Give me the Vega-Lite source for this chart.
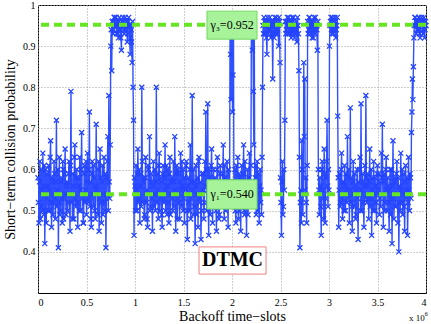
{
"$schema": "https://vega.github.io/schema/vega-lite/v6.json",
"width": 388, "height": 288,
"autosize": {"type": "none"},
"padding": {"left": 38, "top": 5, "right": 5, "bottom": 31},
"background": "white",
"config": {"view": {"stroke": "#000", "strokeWidth": 1}, "font": "Liberation Serif"},
"data": {"values": [
{"x":0,"y":0.58},{"x":5,"y":0.52},{"x":10,"y":0.47},{"x":15,"y":0.57},{"x":20,"y":0.62},{"x":25,"y":0.48},{"x":30,"y":0.51},{"x":35,"y":0.60},{"x":40,"y":0.55},{"x":45,"y":0.50},{"x":50,"y":0.64},{"x":55,"y":0.56},{"x":60,"y":0.49},{"x":65,"y":0.61},{"x":70,"y":0.42},{"x":75,"y":0.54},{"x":80,"y":0.60},{"x":85,"y":0.47},{"x":90,"y":0.53},{"x":95,"y":0.59},
{"x":100,"y":0.56},{"x":105,"y":0.50},{"x":110,"y":0.61},{"x":115,"y":0.55},{"x":120,"y":0.50},{"x":125,"y":0.63},{"x":130,"y":0.67},{"x":135,"y":0.52},{"x":140,"y":0.46},{"x":145,"y":0.58},{"x":150,"y":0.57},{"x":155,"y":0.49},{"x":160,"y":0.52},{"x":165,"y":0.62},{"x":170,"y":0.59},{"x":175,"y":0.53},{"x":180,"y":0.48},{"x":185,"y":0.57},{"x":190,"y":0.72},{"x":195,"y":0.51},
{"x":200,"y":0.55},{"x":205,"y":0.60},{"x":210,"y":0.41},{"x":215,"y":0.52},{"x":220,"y":0.63},{"x":225,"y":0.49},{"x":230,"y":0.50},{"x":235,"y":0.57},{"x":240,"y":0.58},{"x":245,"y":0.53},{"x":250,"y":0.47},{"x":255,"y":0.62},{"x":260,"y":0.60},{"x":265,"y":0.48},{"x":270,"y":0.53},{"x":275,"y":0.59},{"x":280,"y":0.65},{"x":285,"y":0.54},{"x":290,"y":0.49},{"x":295,"y":0.56},
{"x":300,"y":0.57},{"x":305,"y":0.50},{"x":310,"y":0.52},{"x":315,"y":0.59},{"x":320,"y":0.62},{"x":325,"y":0.54},{"x":330,"y":0.45},{"x":335,"y":0.61},{"x":340,"y":0.79},{"x":345,"y":0.52},{"x":350,"y":0.54},{"x":355,"y":0.48},{"x":360,"y":0.59},{"x":365,"y":0.56},{"x":370,"y":0.48},{"x":375,"y":0.63},{"x":380,"y":0.66},{"x":385,"y":0.53},{"x":390,"y":0.51},{"x":395,"y":0.58},
{"x":400,"y":0.60},{"x":405,"y":0.52},{"x":410,"y":0.46},{"x":415,"y":0.58},{"x":420,"y":0.56},{"x":425,"y":0.50},{"x":430,"y":0.63},{"x":435,"y":0.55},{"x":440,"y":0.50},{"x":445,"y":0.60},{"x":450,"y":0.69},{"x":455,"y":0.54},{"x":460,"y":0.53},{"x":465,"y":0.47},{"x":470,"y":0.47},{"x":475,"y":0.59},{"x":480,"y":0.61},{"x":485,"y":0.52},{"x":490,"y":0.55},{"x":495,"y":0.62},
{"x":500,"y":0.49},{"x":505,"y":0.57},{"x":510,"y":0.64},{"x":515,"y":0.53},{"x":520,"y":0.52},{"x":525,"y":0.60},{"x":530,"y":0.74},{"x":535,"y":0.51},{"x":540,"y":0.57},{"x":545,"y":0.48},{"x":550,"y":0.46},{"x":555,"y":0.59},{"x":560,"y":0.62},{"x":565,"y":0.54},{"x":570,"y":0.51},{"x":575,"y":0.61},{"x":580,"y":0.58},{"x":585,"y":0.50},{"x":590,"y":0.48},{"x":595,"y":0.56},
{"x":600,"y":0.71},{"x":605,"y":0.55},{"x":610,"y":0.54},{"x":615,"y":0.49},{"x":620,"y":0.60},{"x":625,"y":0.62},{"x":630,"y":0.45},{"x":635,"y":0.53},{"x":640,"y":0.65},{"x":645,"y":0.58},{"x":650,"y":0.52},{"x":655,"y":0.47},{"x":660,"y":0.57},{"x":665,"y":0.61},{"x":670,"y":0.49},{"x":675,"y":0.54},{"x":680,"y":0.63},{"x":685,"y":0.52},{"x":690,"y":0.50},{"x":695,"y":0.59},
{"x":700,"y":0.41},{"x":705,"y":0.53},{"x":710,"y":0.58},{"x":715,"y":0.62},{"x":720,"y":0.68},{"x":725,"y":0.50},{"x":730,"y":0.78},{"x":735,"y":0.57},{"x":740,"y":0.53},{"x":745,"y":0.66},{"x":750,"y":0.90},{"x":755,"y":0.94},{"x":760,"y":0.84},{"x":765,"y":0.96},{"x":770,"y":0.96},{"x":775,"y":0.93},{"x":780,"y":0.94},{"x":785,"y":0.97},{"x":790,"y":0.97},{"x":795,"y":0.95},
{"x":800,"y":0.95},{"x":805,"y":0.97},{"x":810,"y":0.93},{"x":815,"y":0.95},{"x":820,"y":0.96},{"x":825,"y":0.93},{"x":830,"y":0.92},{"x":835,"y":0.96},{"x":840,"y":0.97},{"x":845,"y":0.94},{"x":850,"y":0.94},{"x":855,"y":0.92},{"x":860,"y":0.89},{"x":865,"y":0.96},{"x":870,"y":0.95},{"x":875,"y":0.97},{"x":880,"y":0.96},{"x":885,"y":0.94},{"x":890,"y":0.93},{"x":895,"y":0.95},
{"x":900,"y":0.97},{"x":905,"y":0.95},{"x":910,"y":0.94},{"x":915,"y":0.96},{"x":920,"y":0.91},{"x":925,"y":0.93},{"x":930,"y":0.96},{"x":935,"y":0.97},{"x":940,"y":0.95},{"x":945,"y":0.92},{"x":950,"y":0.88},{"x":955,"y":0.95},{"x":960,"y":0.94},{"x":965,"y":0.91},{"x":970,"y":0.86},{"x":975,"y":0.96},{"x":980,"y":0.80},{"x":985,"y":0.72},{"x":990,"y":0.44},{"x":995,"y":0.58},
{"x":1000,"y":0.56},{"x":1005,"y":0.50},{"x":1010,"y":0.61},{"x":1015,"y":0.55},{"x":1020,"y":0.50},{"x":1025,"y":0.59},{"x":1030,"y":0.65},{"x":1035,"y":0.52},{"x":1040,"y":0.53},{"x":1045,"y":0.60},{"x":1050,"y":0.47},{"x":1055,"y":0.56},{"x":1060,"y":0.59},{"x":1065,"y":0.51},{"x":1070,"y":0.80},{"x":1075,"y":0.62},{"x":1080,"y":0.52},{"x":1085,"y":0.57},{"x":1090,"y":0.58},{"x":1095,"y":0.48},
{"x":1100,"y":0.49},{"x":1105,"y":0.58},{"x":1110,"y":0.63},{"x":1115,"y":0.52},{"x":1120,"y":0.55},{"x":1125,"y":0.48},{"x":1130,"y":0.46},{"x":1135,"y":0.61},{"x":1140,"y":0.60},{"x":1145,"y":0.54},{"x":1150,"y":0.68},{"x":1155,"y":0.50},{"x":1160,"y":0.51},{"x":1165,"y":0.59},{"x":1170,"y":0.57},{"x":1175,"y":0.53},{"x":1180,"y":0.45},{"x":1185,"y":0.56},{"x":1190,"y":0.62},{"x":1195,"y":0.51},
{"x":1200,"y":0.54},{"x":1205,"y":0.60},{"x":1210,"y":0.50},{"x":1215,"y":0.57},{"x":1220,"y":0.80},{"x":1225,"y":0.52},{"x":1230,"y":0.59},{"x":1235,"y":0.55},{"x":1240,"y":0.48},{"x":1245,"y":0.61},{"x":1250,"y":0.64},{"x":1255,"y":0.50},{"x":1260,"y":0.53},{"x":1265,"y":0.58},{"x":1270,"y":0.57},{"x":1275,"y":0.49},{"x":1280,"y":0.46},{"x":1285,"y":0.59},{"x":1290,"y":0.61},{"x":1295,"y":0.53},
{"x":1300,"y":0.52},{"x":1305,"y":0.58},{"x":1310,"y":0.66},{"x":1315,"y":0.50},{"x":1320,"y":0.55},{"x":1325,"y":0.61},{"x":1330,"y":0.49},{"x":1335,"y":0.56},{"x":1340,"y":0.60},{"x":1345,"y":0.52},{"x":1350,"y":0.47},{"x":1355,"y":0.59},{"x":1360,"y":0.63},{"x":1365,"y":0.49},{"x":1370,"y":0.54},{"x":1375,"y":0.57},{"x":1380,"y":0.58},{"x":1385,"y":0.53},{"x":1390,"y":0.50},{"x":1395,"y":0.62},
{"x":1400,"y":0.57},{"x":1405,"y":0.51},{"x":1410,"y":0.68},{"x":1415,"y":0.55},{"x":1420,"y":0.45},{"x":1425,"y":0.59},{"x":1430,"y":0.61},{"x":1435,"y":0.48},{"x":1440,"y":0.53},{"x":1445,"y":0.60},{"x":1450,"y":0.59},{"x":1455,"y":0.52},{"x":1460,"y":0.48},{"x":1465,"y":0.57},{"x":1470,"y":0.64},{"x":1475,"y":0.55},{"x":1480,"y":0.51},{"x":1485,"y":0.62},{"x":1490,"y":0.56},{"x":1495,"y":0.50},
{"x":1500,"y":0.60},{"x":1505,"y":0.53},{"x":1510,"y":0.47},{"x":1515,"y":0.58},{"x":1520,"y":0.55},{"x":1525,"y":0.61},{"x":1530,"y":0.62},{"x":1535,"y":0.50},{"x":1540,"y":0.43},{"x":1545,"y":0.56},{"x":1550,"y":0.58},{"x":1555,"y":0.52},{"x":1560,"y":0.50},{"x":1565,"y":0.60},{"x":1570,"y":0.66},{"x":1575,"y":0.48},{"x":1580,"y":0.53},{"x":1585,"y":0.57},{"x":1590,"y":0.78},{"x":1595,"y":0.55},
{"x":1600,"y":0.49},{"x":1605,"y":0.60},{"x":1610,"y":0.57},{"x":1615,"y":0.51},{"x":1620,"y":0.42},{"x":1625,"y":0.56},{"x":1630,"y":0.61},{"x":1635,"y":0.49},{"x":1640,"y":0.54},{"x":1645,"y":0.58},{"x":1650,"y":0.46},{"x":1655,"y":0.62},{"x":1660,"y":0.63},{"x":1665,"y":0.53},{"x":1670,"y":0.52},{"x":1675,"y":0.57},{"x":1680,"y":0.43},{"x":1685,"y":0.50},{"x":1690,"y":0.59},{"x":1695,"y":0.54},
{"x":1700,"y":0.55},{"x":1705,"y":0.59},{"x":1710,"y":0.48},{"x":1715,"y":0.52},{"x":1720,"y":0.62},{"x":1725,"y":0.56},{"x":1730,"y":0.74},{"x":1735,"y":0.60},{"x":1740,"y":0.50},{"x":1745,"y":0.55},{"x":1750,"y":0.76},{"x":1755,"y":0.51},{"x":1760,"y":0.44},{"x":1765,"y":0.60},{"x":1770,"y":0.58},{"x":1775,"y":0.49},{"x":1780,"y":0.53},{"x":1785,"y":0.61},{"x":1790,"y":0.65},{"x":1795,"y":0.52},
{"x":1800,"y":0.47},{"x":1805,"y":0.56},{"x":1810,"y":0.60},{"x":1815,"y":0.53},{"x":1820,"y":0.52},{"x":1825,"y":0.58},{"x":1830,"y":0.57},{"x":1835,"y":0.50},{"x":1840,"y":0.45},{"x":1845,"y":0.60},{"x":1850,"y":0.63},{"x":1855,"y":0.55},{"x":1860,"y":0.54},{"x":1865,"y":0.48},{"x":1870,"y":0.49},{"x":1875,"y":0.59},{"x":1880,"y":0.61},{"x":1885,"y":0.52},{"x":1890,"y":0.56},{"x":1895,"y":0.57},
{"x":1900,"y":0.51},{"x":1905,"y":0.59},{"x":1910,"y":0.66},{"x":1915,"y":0.53},{"x":1920,"y":0.48},{"x":1925,"y":0.61},{"x":1930,"y":0.58},{"x":1935,"y":0.50},{"x":1940,"y":0.53},{"x":1945,"y":0.57},{"x":1950,"y":0.62},{"x":1955,"y":0.52},{"x":1960,"y":0.46},{"x":1965,"y":0.60},{"x":1970,"y":0.57},{"x":1975,"y":0.51},{"x":1980,"y":0.96},{"x":1985,"y":0.88},{"x":1990,"y":0.77},{"x":1995,"y":0.93},
{"x":2000,"y":0.95},{"x":2005,"y":0.74},{"x":2010,"y":0.83},{"x":2015,"y":0.96},{"x":2020,"y":0.52},{"x":2025,"y":0.57},{"x":2030,"y":0.60},{"x":2035,"y":0.50},{"x":2040,"y":0.47},{"x":2045,"y":0.61},{"x":2050,"y":0.56},{"x":2055,"y":0.53},{"x":2060,"y":0.63},{"x":2065,"y":0.48},{"x":2070,"y":0.50},{"x":2075,"y":0.59},{"x":2080,"y":0.58},{"x":2085,"y":0.52},{"x":2090,"y":0.45},{"x":2095,"y":0.57},
{"x":2100,"y":0.61},{"x":2105,"y":0.55},{"x":2110,"y":0.53},{"x":2115,"y":0.59},{"x":2120,"y":0.66},{"x":2125,"y":0.50},{"x":2130,"y":0.49},{"x":2135,"y":0.62},{"x":2140,"y":0.57},{"x":2145,"y":0.52},{"x":2150,"y":0.44},{"x":2155,"y":0.57},{"x":2160,"y":0.60},{"x":2165,"y":0.49},{"x":2170,"y":0.52},{"x":2175,"y":0.58},{"x":2180,"y":0.64},{"x":2185,"y":0.54},{"x":2190,"y":0.55},{"x":2195,"y":0.61},
{"x":2200,"y":0.96},{"x":2205,"y":0.94},{"x":2210,"y":0.89},{"x":2215,"y":0.97},{"x":2220,"y":0.79},{"x":2225,"y":0.66},{"x":2230,"y":0.93},{"x":2235,"y":0.52},{"x":2240,"y":0.58},{"x":2245,"y":0.61},{"x":2250,"y":0.49},{"x":2255,"y":0.55},{"x":2260,"y":0.62},{"x":2265,"y":0.50},{"x":2270,"y":0.54},{"x":2275,"y":0.59},{"x":2280,"y":0.47},{"x":2285,"y":0.56},{"x":2290,"y":0.60},{"x":2295,"y":0.52},
{"x":2300,"y":0.55},{"x":2305,"y":0.49},{"x":2310,"y":0.63},{"x":2315,"y":0.80},{"x":2320,"y":0.95},{"x":2325,"y":0.93},{"x":2330,"y":0.97},{"x":2335,"y":0.96},{"x":2340,"y":0.93},{"x":2345,"y":0.95},{"x":2350,"y":0.96},{"x":2355,"y":0.92},{"x":2360,"y":0.88},{"x":2365,"y":0.97},{"x":2370,"y":0.95},{"x":2375,"y":0.93},{"x":2380,"y":0.94},{"x":2385,"y":0.96},{"x":2390,"y":0.97},{"x":2395,"y":0.94},
{"x":2400,"y":0.92},{"x":2405,"y":0.95},{"x":2410,"y":0.96},{"x":2415,"y":0.93},{"x":2420,"y":0.82},{"x":2425,"y":0.96},{"x":2430,"y":0.95},{"x":2435,"y":0.92},{"x":2440,"y":0.97},{"x":2445,"y":0.94},{"x":2450,"y":0.93},{"x":2455,"y":0.97},{"x":2460,"y":0.96},{"x":2465,"y":0.93},{"x":2470,"y":0.94},{"x":2475,"y":0.95},{"x":2480,"y":0.90},{"x":2485,"y":0.97},{"x":2490,"y":0.96},{"x":2495,"y":0.86},
{"x":2500,"y":0.58},{"x":2505,"y":0.52},{"x":2510,"y":0.44},{"x":2515,"y":0.57},{"x":2520,"y":0.62},{"x":2525,"y":0.49},{"x":2530,"y":0.51},{"x":2535,"y":0.60},{"x":2540,"y":0.55},{"x":2545,"y":0.72},{"x":2550,"y":0.96},{"x":2555,"y":0.93},{"x":2560,"y":0.94},{"x":2565,"y":0.96},{"x":2570,"y":0.97},{"x":2575,"y":0.95},{"x":2580,"y":0.93},{"x":2585,"y":0.97},{"x":2590,"y":0.95},{"x":2595,"y":0.93},
{"x":2600,"y":0.96},{"x":2605,"y":0.94},{"x":2610,"y":0.92},{"x":2615,"y":0.96},{"x":2620,"y":0.97},{"x":2625,"y":0.93},{"x":2630,"y":0.94},{"x":2635,"y":0.97},{"x":2640,"y":0.95},{"x":2645,"y":0.92},{"x":2650,"y":0.93},{"x":2655,"y":0.95},{"x":2660,"y":0.96},{"x":2665,"y":0.94},{"x":2670,"y":0.91},{"x":2675,"y":0.97},{"x":2680,"y":0.95},{"x":2685,"y":0.93},{"x":2690,"y":0.84},{"x":2695,"y":0.63},
{"x":2700,"y":0.41},{"x":2705,"y":0.52},{"x":2710,"y":0.55},{"x":2715,"y":0.47},{"x":2720,"y":0.67},{"x":2725,"y":0.60},{"x":2730,"y":0.49},{"x":2735,"y":0.54},{"x":2740,"y":0.86},{"x":2745,"y":0.68},{"x":2750,"y":0.82},{"x":2755,"y":0.55},{"x":2760,"y":0.58},{"x":2765,"y":0.52},{"x":2770,"y":0.47},{"x":2775,"y":0.61},{"x":2780,"y":0.96},{"x":2785,"y":0.93},{"x":2790,"y":0.94},{"x":2795,"y":0.97},
{"x":2800,"y":0.97},{"x":2805,"y":0.94},{"x":2810,"y":0.93},{"x":2815,"y":0.96},{"x":2820,"y":0.95},{"x":2825,"y":0.92},{"x":2830,"y":0.96},{"x":2835,"y":0.95},{"x":2840,"y":0.92},{"x":2845,"y":0.97},{"x":2850,"y":0.94},{"x":2855,"y":0.93},{"x":2860,"y":0.97},{"x":2865,"y":0.95},{"x":2870,"y":0.95},{"x":2875,"y":0.94},{"x":2880,"y":0.89},{"x":2885,"y":0.96},{"x":2890,"y":0.60},{"x":2895,"y":0.55},
{"x":2900,"y":0.49},{"x":2905,"y":0.58},{"x":2910,"y":0.56},{"x":2915,"y":0.51},{"x":2920,"y":0.44},{"x":2925,"y":0.60},{"x":2930,"y":0.62},{"x":2935,"y":0.55},{"x":2940,"y":0.53},{"x":2945,"y":0.48},{"x":2950,"y":0.65},{"x":2955,"y":0.59},{"x":2960,"y":0.47},{"x":2965,"y":0.53},{"x":2970,"y":0.58},{"x":2975,"y":0.62},{"x":2980,"y":0.72},{"x":2985,"y":0.56},{"x":2990,"y":0.51},{"x":2995,"y":0.60},
{"x":3000,"y":0.55},{"x":3005,"y":0.90},{"x":3010,"y":0.95},{"x":3015,"y":0.96},{"x":3020,"y":0.97},{"x":3025,"y":0.94},{"x":3030,"y":0.93},{"x":3035,"y":0.97},{"x":3040,"y":0.96},{"x":3045,"y":0.93},{"x":3050,"y":0.94},{"x":3055,"y":0.95},{"x":3060,"y":0.97},{"x":3065,"y":0.96},{"x":3070,"y":0.92},{"x":3075,"y":0.94},{"x":3080,"y":0.95},{"x":3085,"y":0.97},{"x":3090,"y":0.73},{"x":3095,"y":0.58},
{"x":3100,"y":0.46},{"x":3105,"y":0.55},{"x":3110,"y":0.59},{"x":3115,"y":0.51},{"x":3120,"y":0.52},{"x":3125,"y":0.60},{"x":3130,"y":0.64},{"x":3135,"y":0.53},{"x":3140,"y":0.48},{"x":3145,"y":0.57},{"x":3150,"y":0.57},{"x":3155,"y":0.50},{"x":3160,"y":0.61},{"x":3165,"y":0.56},{"x":3170,"y":0.50},{"x":3175,"y":0.59},{"x":3180,"y":0.55},{"x":3185,"y":0.52},{"x":3190,"y":0.68},{"x":3195,"y":0.58},
{"x":3200,"y":0.53},{"x":3205,"y":0.60},{"x":3210,"y":0.47},{"x":3215,"y":0.55},{"x":3220,"y":0.75},{"x":3225,"y":0.52},{"x":3230,"y":0.58},{"x":3235,"y":0.51},{"x":3240,"y":0.45},{"x":3245,"y":0.57},{"x":3250,"y":0.62},{"x":3255,"y":0.54},{"x":3260,"y":0.51},{"x":3265,"y":0.59},{"x":3270,"y":0.56},{"x":3275,"y":0.48},{"x":3280,"y":0.49},{"x":3285,"y":0.55},{"x":3290,"y":0.60},{"x":3295,"y":0.53},
{"x":3300,"y":0.43},{"x":3305,"y":0.57},{"x":3310,"y":0.54},{"x":3315,"y":0.60},{"x":3320,"y":0.63},{"x":3325,"y":0.50},{"x":3330,"y":0.76},{"x":3335,"y":0.55},{"x":3340,"y":0.50},{"x":3345,"y":0.59},{"x":3350,"y":0.57},{"x":3355,"y":0.52},{"x":3360,"y":0.46},{"x":3365,"y":0.56},{"x":3370,"y":0.61},{"x":3375,"y":0.53},{"x":3380,"y":0.78},{"x":3385,"y":0.58},{"x":3390,"y":0.52},{"x":3395,"y":0.56},
{"x":3400,"y":0.59},{"x":3405,"y":0.53},{"x":3410,"y":0.48},{"x":3415,"y":0.57},{"x":3420,"y":0.65},{"x":3425,"y":0.51},{"x":3430,"y":0.53},{"x":3435,"y":0.60},{"x":3440,"y":0.44},{"x":3445,"y":0.55},{"x":3450,"y":0.58},{"x":3455,"y":0.50},{"x":3460,"y":0.62},{"x":3465,"y":0.54},{"x":3470,"y":0.50},{"x":3475,"y":0.58},{"x":3480,"y":0.56},{"x":3485,"y":0.52},{"x":3490,"y":0.47},{"x":3495,"y":0.59},
{"x":3500,"y":0.61},{"x":3505,"y":0.55},{"x":3510,"y":0.54},{"x":3515,"y":0.59},{"x":3520,"y":0.49},{"x":3525,"y":0.53},{"x":3530,"y":0.57},{"x":3535,"y":0.51},{"x":3540,"y":0.64},{"x":3545,"y":0.58},{"x":3550,"y":0.71},{"x":3555,"y":0.54},{"x":3560,"y":0.46},{"x":3565,"y":0.57},{"x":3570,"y":0.59},{"x":3575,"y":0.50},{"x":3580,"y":0.52},{"x":3585,"y":0.60},{"x":3590,"y":0.63},{"x":3595,"y":0.55},
{"x":3600,"y":0.50},{"x":3605,"y":0.58},{"x":3610,"y":0.56},{"x":3615,"y":0.52},{"x":3620,"y":0.45},{"x":3625,"y":0.55},{"x":3630,"y":0.60},{"x":3635,"y":0.49},{"x":3640,"y":0.53},{"x":3645,"y":0.60},{"x":3650,"y":0.42},{"x":3655,"y":0.56},{"x":3660,"y":0.67},{"x":3665,"y":0.53},{"x":3670,"y":0.48},{"x":3675,"y":0.57},{"x":3680,"y":0.58},{"x":3685,"y":0.51},{"x":3690,"y":0.51},{"x":3695,"y":0.59},
{"x":3700,"y":0.62},{"x":3705,"y":0.54},{"x":3710,"y":0.47},{"x":3715,"y":0.58},{"x":3720,"y":0.40},{"x":3725,"y":0.52},{"x":3730,"y":0.56},{"x":3735,"y":0.50},{"x":3740,"y":0.64},{"x":3745,"y":0.55},{"x":3750,"y":0.52},{"x":3755,"y":0.60},{"x":3760,"y":0.49},{"x":3765,"y":0.54},{"x":3770,"y":0.59},{"x":3775,"y":0.51},{"x":3780,"y":0.45},{"x":3785,"y":0.57},{"x":3790,"y":0.61},{"x":3795,"y":0.53},
{"x":3800,"y":0.55},{"x":3805,"y":0.58},{"x":3810,"y":0.44},{"x":3815,"y":0.52},{"x":3820,"y":0.63},{"x":3825,"y":0.55},{"x":3830,"y":0.50},{"x":3835,"y":0.59},{"x":3840,"y":0.58},{"x":3845,"y":0.53},{"x":3850,"y":0.69},{"x":3855,"y":0.74},{"x":3860,"y":0.82},{"x":3865,"y":0.77},{"x":3870,"y":0.85},{"x":3875,"y":0.92},{"x":3880,"y":0.95},{"x":3885,"y":0.97},{"x":3890,"y":0.97},{"x":3895,"y":0.95},
{"x":3900,"y":0.93},{"x":3905,"y":0.96},{"x":3910,"y":0.96},{"x":3915,"y":0.94},{"x":3920,"y":0.94},{"x":3925,"y":0.97},{"x":3930,"y":0.97},{"x":3935,"y":0.93},{"x":3940,"y":0.92},{"x":3945,"y":0.96},{"x":3950,"y":0.95},{"x":3955,"y":0.97},{"x":3960,"y":0.96},{"x":3965,"y":0.94},{"x":3970,"y":0.93},{"x":3975,"y":0.96},{"x":3980,"y":0.97},{"x":3985,"y":0.92},{"x":3990,"y":0.94},{"x":3995,"y":0.96},
{"x":4000,"y":0.95}
]},
"layer": [
{"mark": {"type": "line", "color": "#2f50ff", "strokeWidth": 1.4, "clip": true},
 "encoding": {
  "x": {"field": "x", "type": "quantitative", "scale": {"domain": [0, 4000], "nice": false},
   "axis": {"title": "Backoff time−slots", "values": [0,500,1000,1500,2000,2500,3000,3500,4000], "labelExpr": "datum.value/1000 + ''",
    "grid": true, "gridDash": [1,2], "gridColor": "#a0a0a0", "ticks": false, "domain": false,
    "labelFont": "Liberation Serif", "labelFontSize": 10, "labelColor": "#000", "labelPadding": 4,
    "titleFont": "Liberation Serif", "titleFontSize": 14, "titleFontWeight": "normal", "titleColor": "#000", "titlePadding": 2}},
  "y": {"field": "y", "type": "quantitative", "scale": {"domain": [0.3, 1], "nice": false, "zero": false},
   "axis": {"title": "Short−term collision probability", "values": [0.4,0.5,0.6,0.7,0.8,0.9,1], "labelExpr": "datum.value + ''",
    "grid": true, "gridDash": [1,2], "gridColor": "#a0a0a0", "ticks": false, "domain": false,
    "labelFont": "Liberation Serif", "labelFontSize": 10, "labelColor": "#000", "labelPadding": 3,
    "titleFont": "Liberation Serif", "titleFontSize": 14, "titleFontWeight": "normal", "titleColor": "#000", "titlePadding": 5}}
 }},
{"mark": {"type": "point", "shape": "M-1,-1L1,1M-1,1L1,-1", "filled": false, "color": "#2444ff", "size": 25, "strokeWidth": 1.3, "opacity": 1},
 "encoding": {"x": {"field": "x", "type": "quantitative"}, "y": {"field": "y", "type": "quantitative"}}},
{"data": {"values": [{"g": 0.952}, {"g": 0.54}]},
 "mark": {"type": "rule", "color": "#66e620", "strokeWidth": 4, "strokeDash": [8, 5]},
 "encoding": {"y": {"field": "g", "type": "quantitative"}}},
{"data": {"values": [{}]},
 "mark": {"type": "rect", "fill": "#a6f39a", "stroke": "#74d95e", "strokeWidth": 1},
 "encoding": {"x": {"datum": 1742}, "x2": {"datum": 2258}, "y": {"datum": 0.985}, "y2": {"datum": 0.917}}},
{"data": {"values": [{}]},
 "mark": {"type": "text", "text": "γ₃=0.952", "font": "Liberation Serif", "fontSize": 12, "color": "#000", "align": "center", "baseline": "middle"},
 "encoding": {"x": {"datum": 2000}, "y": {"datum": 0.952}}},
{"data": {"values": [{}]},
 "mark": {"type": "rect", "fill": "#a6f39a", "stroke": "#74d95e", "strokeWidth": 1},
 "encoding": {"x": {"datum": 1742}, "x2": {"datum": 2258}, "y": {"datum": 0.575}, "y2": {"datum": 0.504}}},
{"data": {"values": [{}]},
 "mark": {"type": "text", "text": "γ₁=0.540", "font": "Liberation Serif", "fontSize": 12, "color": "#000", "align": "center", "baseline": "middle"},
 "encoding": {"x": {"datum": 2000}, "y": {"datum": 0.54}}},
{"data": {"values": [{}]},
 "mark": {"type": "rect", "fill": "white", "stroke": "#f08080", "strokeWidth": 1},
 "encoding": {"x": {"datum": 1660}, "x2": {"datum": 2351}, "y": {"datum": 0.412}, "y2": {"datum": 0.346}}},
{"data": {"values": [{}]},
 "mark": {"type": "text", "text": "DTMC", "font": "Liberation Serif", "fontSize": 20, "fontWeight": "bold", "color": "#000", "align": "center", "baseline": "middle"},
 "encoding": {"x": {"datum": 2005}, "y": {"datum": 0.379}}},
{"data": {"values": [{}]},
 "mark": {"type": "text", "text": "x 10", "font": "Liberation Serif", "fontSize": 9, "color": "#000", "align": "center", "baseline": "middle"},
 "encoding": {"x": {"datum": 3907}, "y": {"datum": 0.239}}},
{"data": {"values": [{}]},
 "mark": {"type": "text", "text": "6", "font": "Liberation Serif", "fontSize": 6, "color": "#000", "align": "center", "baseline": "middle"},
 "encoding": {"x": {"datum": 4003}, "y": {"datum": 0.25}}}
]
}
